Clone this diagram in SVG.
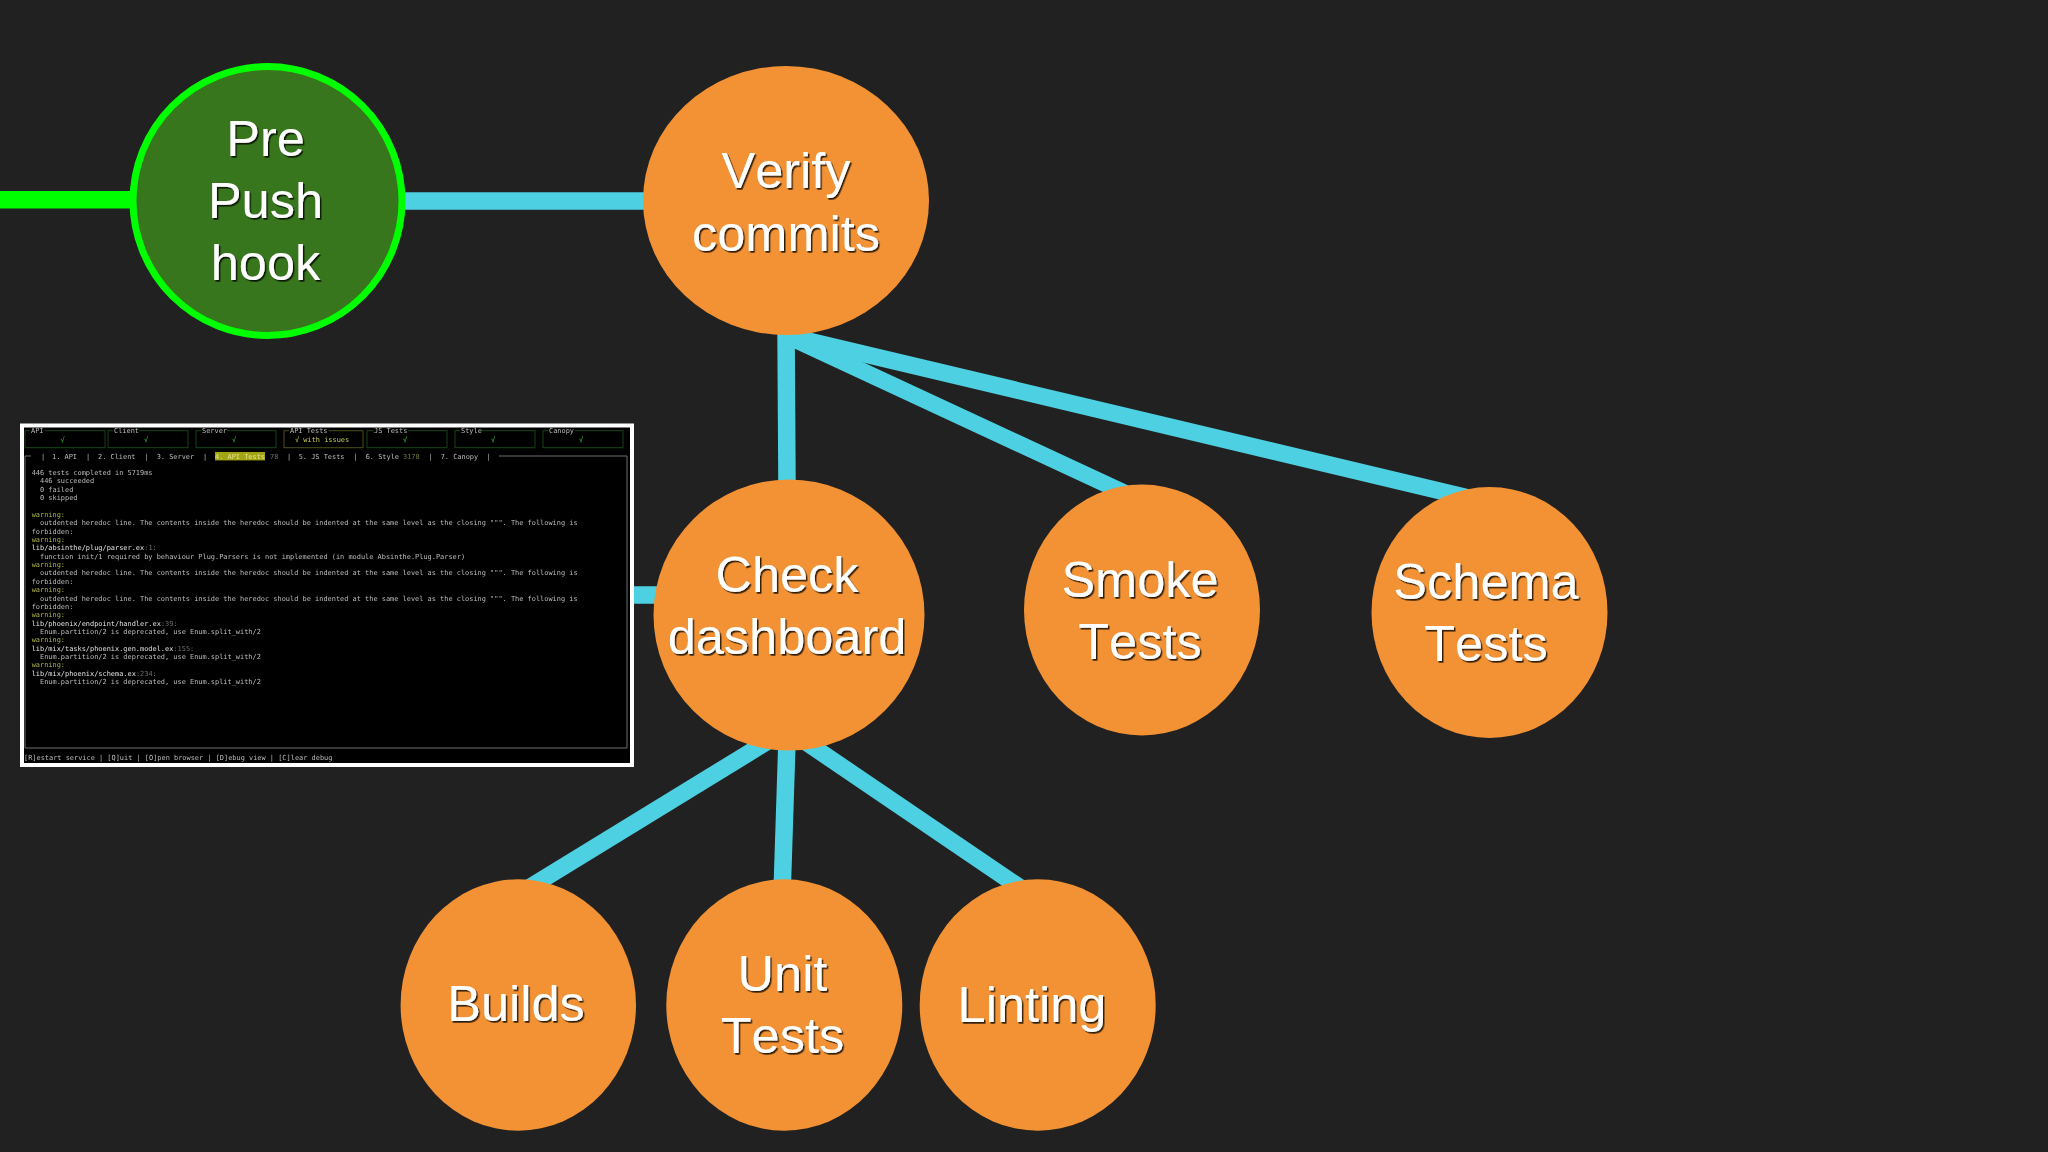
<svg xmlns="http://www.w3.org/2000/svg" width="2048" height="1152" viewBox="0 0 2048 1152">
<style>
.org{fill:#f29234}
.lbl{font-family:"Liberation Sans",Arial,sans-serif;font-size:50.5px;fill:#fff;text-anchor:middle;font-kerning:none;filter:url(#sh)}
.cy{stroke:#4dd0e1;stroke-width:17.5;fill:none}
.t{font-family:"DejaVu Sans Mono","Liberation Mono",monospace;font-size:6.93px;fill:#bcbcbc}
.w{fill:#aeb347}
.p{fill:#e0e0e0}
.d{fill:#6f6f6f}
.g{fill:#35c935}
.y{fill:#c4c94e}
.bx{fill:none;stroke:#16451c;stroke-width:1}
.fr{fill:none;stroke:#6e6e6e;stroke-width:1}
</style>
<defs>
<filter id="sh" x="-10%" y="-20%" width="120%" height="140%"><feDropShadow dx="1.5" dy="1.7" stdDeviation="0.7" flood-color="#000" flood-opacity="0.8"/></filter>
<filter id="bl" x="-2%" y="-2%" width="104%" height="104%"><feGaussianBlur stdDeviation="0.3"/></filter>
</defs>
<rect width="2048" height="1152" fill="#212121"/>
<g id="connectors">
<line x1="0" y1="199.7" x2="135" y2="199.7" stroke="#00ff00" stroke-width="17.5"/>
<line class="cy" x1="400" y1="201" x2="650" y2="201"/>
<line class="cy" x1="786" y1="325" x2="787" y2="485"/>
<line class="cy" x1="786" y1="335.5" x2="1140" y2="500" style="stroke-width:16.5"/>
<line class="cy" x1="786" y1="335.4" x2="1480" y2="500.5" style="stroke-width:17"/>
<line class="cy" x1="630" y1="595" x2="660" y2="595"/>
<line class="cy" x1="783" y1="732" x2="520" y2="893.3" style="stroke-width:17"/>
<line class="cy" x1="787.5" y1="725" x2="782" y2="895"/>
<line class="cy" x1="790" y1="731.3" x2="1030" y2="894.4" style="stroke-width:17"/>
</g>
<g id="pre-push">
<ellipse cx="267.5" cy="201" rx="134.5" ry="134.5" fill="#38761d" stroke="#00ff00" stroke-width="7"/>
<text class="lbl" x="265.5" y="156">Pre</text>
<text class="lbl" x="265.5" y="218">Push</text>
<text class="lbl" x="265.5" y="280">hook</text>
</g>
<g id="verify-commits">
<ellipse class="org" cx="786" cy="200.5" rx="143" ry="134.5"/>
<text class="lbl" x="786" y="188">Verify</text>
<text class="lbl" x="786" y="250.5">commits</text>
</g>
<g id="check-dashboard">
<ellipse class="org" cx="789" cy="615" rx="135.5" ry="135.5"/>
<text class="lbl" x="787" y="592">Check</text>
<text class="lbl" x="787" y="654">dashboard</text>
</g>
<g id="smoke-tests">
<ellipse class="org" cx="1142" cy="610" rx="118" ry="125.5"/>
<text class="lbl" x="1140" y="596.5">Smoke</text>
<text class="lbl" x="1140" y="658.5">Tests</text>
</g>
<g id="schema-tests">
<ellipse class="org" cx="1489.5" cy="612.5" rx="118" ry="125.5"/>
<text class="lbl" x="1486" y="599">Schema</text>
<text class="lbl" x="1486" y="660.5">Tests</text>
</g>
<g id="builds">
<ellipse class="org" cx="518.3" cy="1005" rx="117.7" ry="125.7"/>
<text class="lbl" x="516" y="1021">Builds</text>
</g>
<g id="unit-tests">
<ellipse class="org" cx="784.3" cy="1005" rx="118" ry="125.7"/>
<text class="lbl" x="782.5" y="990.5">Unit</text>
<text class="lbl" x="782.5" y="1052.5">Tests</text>
</g>
<g id="linting">
<ellipse class="org" cx="1037.7" cy="1005" rx="118" ry="125.7"/>
<text class="lbl" x="1032" y="1022">Linting</text>
</g>
<g id="terminal">
<rect x="22" y="425.5" width="610" height="339.5" fill="#000" stroke="#fff" stroke-width="4"/>
<g filter="url(#bl)">
<rect class="bx" x="25" y="430.7" width="80" height="17"/>
<rect class="bx" x="108" y="430.7" width="80" height="17"/>
<rect class="bx" x="196" y="430.7" width="80" height="17"/>
<rect class="bx" x="284" y="430.7" width="79" height="17" style="stroke:#4d4f1c"/>
<rect class="bx" x="367" y="430.7" width="80" height="17"/>
<rect class="bx" x="455" y="430.7" width="80" height="17"/>
<rect class="bx" x="543" y="430.7" width="80" height="17"/>
<path class="fr" d="M25 456H31M499 456H627V748H25V456"/>
<rect x="215" y="452" width="50" height="8.4" fill="#a3a315"/>
<g fill="#000">
<rect x="30" y="428" width="15" height="5"/><rect x="113" y="428" width="26" height="5"/><rect x="201" y="428" width="26" height="5"/><rect x="289" y="428" width="40" height="5"/><rect x="373" y="428" width="35" height="5"/><rect x="460" y="428" width="22" height="5"/><rect x="548" y="428" width="27" height="5"/>
</g>
<text class="t" x="31" y="433">API</text>
<text class="t" x="114" y="433">Client</text>
<text class="t" x="202" y="433">Server</text>
<text class="t" x="290" y="433">API Tests</text>
<text class="t" x="374" y="433">JS Tests</text>
<text class="t" x="461" y="433">Style</text>
<text class="t" x="549" y="433">Canopy</text>
<text class="t g" x="60.5" y="442">√</text>
<text class="t g" x="144" y="442">√</text>
<text class="t g" x="232" y="442">√</text>
<text class="t y" x="295" y="442">√ with issues</text>
<text class="t g" x="403" y="442">√</text>
<text class="t g" x="491" y="442">√</text>
<text class="t g" x="579" y="442">√</text>
<text class="t" x="41" y="458.5">|</text>
<text class="t" x="52" y="458.5">1. API</text>
<text class="t" x="86" y="458.5">|</text>
<text class="t" x="98" y="458.5">2. Client</text>
<text class="t" x="144.5" y="458.5">|</text>
<text class="t" x="156.7" y="458.5">3. Server</text>
<text class="t" x="203" y="458.5">|</text>
<text class="t" x="215" y="458.5" style="fill:#e2e48c">4. API Tests</text>
<text class="t d" x="270" y="458.5">78</text>
<text class="t" x="287" y="458.5">|</text>
<text class="t" x="298.7" y="458.5">5. JS Tests</text>
<text class="t" x="353.5" y="458.5">|</text>
<text class="t" x="365.7" y="458.5">6. Style</text>
<text class="t d" x="403" y="458.5" style="fill:#6d7a3a">3178</text>
<text class="t" x="428.5" y="458.5">|</text>
<text class="t" x="440.7" y="458.5">7. Canopy</text>
<text class="t" x="486.5" y="458.5">|</text>
<text class="t" x="31.7" y="475">446 tests completed in 5719ms</text>
<text class="t" x="40" y="483.4">446 succeeded</text>
<text class="t" x="40" y="491.7">0 failed</text>
<text class="t" x="40" y="500.1">0 skipped</text>
<text class="t w" x="31.7" y="516.8">warning:</text>
<text class="t" x="40" y="525.2">outdented heredoc line. The contents inside the heredoc should be indented at the same level as the closing """. The following is</text>
<text class="t" x="31.7" y="533.6">forbidden:</text>
<text class="t w" x="31.7" y="541.9">warning:</text>
<text class="t" x="31.7" y="550.3"><tspan class="p">lib/absinthe/plug/parser.ex</tspan><tspan class="d">:1:</tspan></text>
<text class="t" x="40" y="558.7">function init/1 required by behaviour Plug.Parsers is not implemented (in module Absinthe.Plug.Parser)</text>
<text class="t w" x="31.7" y="567">warning:</text>
<text class="t" x="40" y="575.4">outdented heredoc line. The contents inside the heredoc should be indented at the same level as the closing """. The following is</text>
<text class="t" x="31.7" y="583.8">forbidden:</text>
<text class="t w" x="31.7" y="592.1">warning:</text>
<text class="t" x="40" y="600.5">outdented heredoc line. The contents inside the heredoc should be indented at the same level as the closing """. The following is</text>
<text class="t" x="31.7" y="608.9">forbidden:</text>
<text class="t w" x="31.7" y="617.2">warning:</text>
<text class="t" x="31.7" y="625.6"><tspan class="p">lib/phoenix/endpoint/handler.ex</tspan><tspan class="d">:39:</tspan></text>
<text class="t" x="40" y="634">Enum.partition/2 is deprecated, use Enum.split_with/2</text>
<text class="t w" x="31.7" y="642.3">warning:</text>
<text class="t" x="31.7" y="650.7"><tspan class="p">lib/mix/tasks/phoenix.gen.model.ex</tspan><tspan class="d">:155:</tspan></text>
<text class="t" x="40" y="659.1">Enum.partition/2 is deprecated, use Enum.split_with/2</text>
<text class="t w" x="31.7" y="667.4">warning:</text>
<text class="t" x="31.7" y="675.8"><tspan class="p">lib/mix/phoenix/schema.ex</tspan><tspan class="d">:234:</tspan></text>
<text class="t" x="40" y="684.2">Enum.partition/2 is deprecated, use Enum.split_with/2</text>
<text class="t" x="24" y="759.5">[R]estart service | [Q]uit | [O]pen browser | [D]ebug view | [C]lear debug</text>
</g>
</g>
</svg>
